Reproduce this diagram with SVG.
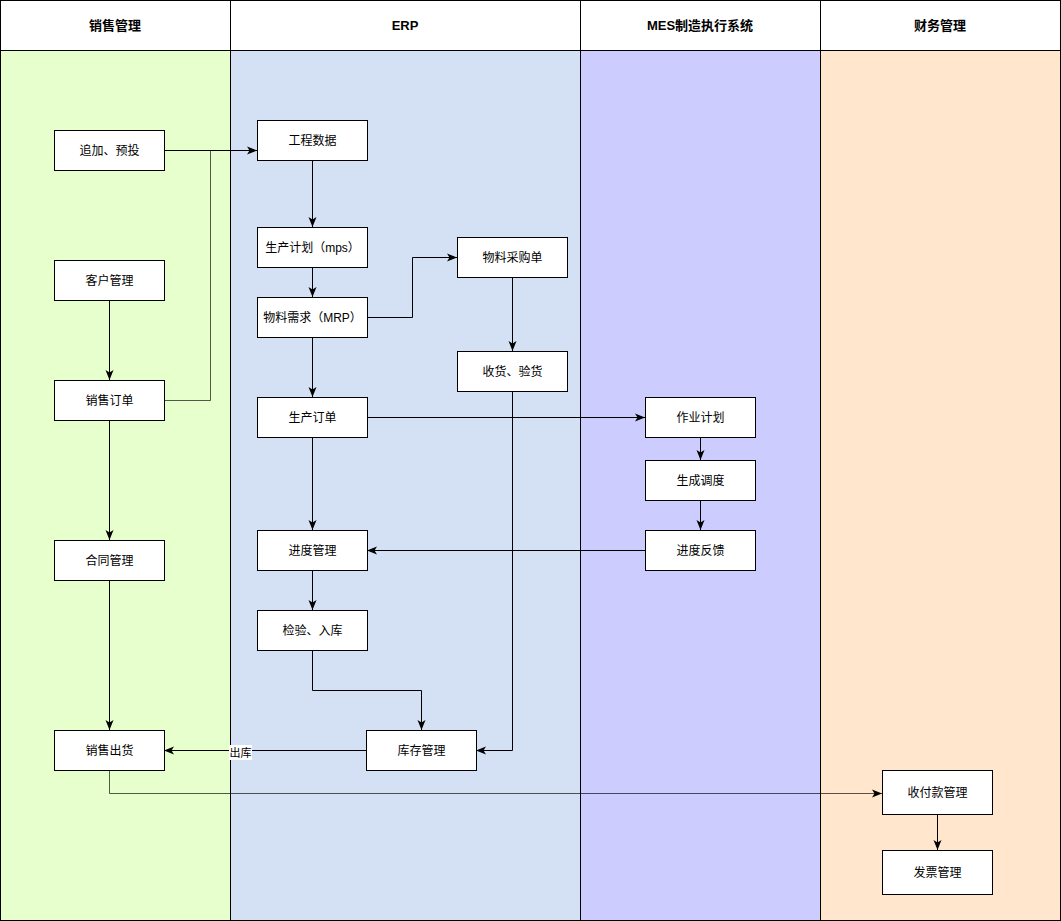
<svg xmlns="http://www.w3.org/2000/svg" width="1061" height="921" viewBox="0 0 1061 921">
<style>
.hdr{fill:#ffffff;stroke:#000;stroke-width:1}
.lane{stroke:#000;stroke-width:1}
.ht{font-family:"Liberation Sans","Noto Sans CJK SC",sans-serif;font-size:13px;font-weight:bold;fill:#000;text-anchor:middle;dominant-baseline:central}
.box{fill:#fff;stroke:#000;stroke-width:1}
.t{font-family:"Liberation Sans","Noto Sans CJK SC",sans-serif;font-size:12px;fill:#000;text-anchor:middle;dominant-baseline:central}
.e{fill:none;stroke:#000;stroke-width:1}
.g{fill:none;stroke:#000;stroke-opacity:0.65;stroke-width:1}
</style>
<defs>
<marker id="a" viewBox="0 0 10 10" refX="10" refY="5" markerWidth="10" markerHeight="10" markerUnits="userSpaceOnUse" orient="auto">
<path d="M0,1 L10,5 L0,9 L2.5,5 Z" fill="#000"/>
</marker>
</defs>
<g id="lanes">
<rect class="lane" x="0.5" y="50.5" width="230" height="870" fill="#e6ffcc"/>
<rect class="lane" x="230.5" y="50.5" width="350" height="870" fill="#d4e1f5"/>
<rect class="lane" x="580.5" y="50.5" width="240" height="870" fill="#ccccff"/>
<rect class="lane" x="820.5" y="50.5" width="240" height="870" fill="#ffe6cc"/>
<rect class="hdr" x="0.5" y="0.5" width="230" height="50"/>
<rect class="hdr" x="230.5" y="0.5" width="350" height="50"/>
<rect class="hdr" x="580.5" y="0.5" width="240" height="50"/>
<rect class="hdr" x="820.5" y="0.5" width="240" height="50"/>
<text class="ht" x="115" y="25">销售管理</text>
<text class="ht" x="405" y="25">ERP</text>
<text class="ht" x="700" y="25">MES制造执行系统</text>
<text class="ht" x="940" y="25">财务管理</text>
</g>
<g id="connectors">
<path class="g" d="M164,400.5 H210.5 V150.5 H230"/>
<path class="g" d="M109.5,770 V793.5 H882" marker-end="url(#a)"/>
<path class="e" d="M164,150.5 H257" marker-end="url(#a)"/>
<path class="e" d="M109.5,300 V380" marker-end="url(#a)"/>
<path class="e" d="M109.5,420 V540" marker-end="url(#a)"/>
<path class="e" d="M109.5,580 V730" marker-end="url(#a)"/>
<path class="e" d="M312.5,160 V227" marker-end="url(#a)"/>
<path class="e" d="M312.5,267 V297" marker-end="url(#a)"/>
<path class="e" d="M367,317.5 H412.5 V257.5 H457" marker-end="url(#a)"/>
<path class="e" d="M512.5,277 V351" marker-end="url(#a)"/>
<path class="e" d="M512.5,391 V750.5 H476" marker-end="url(#a)"/>
<path class="e" d="M312.5,337 V397" marker-end="url(#a)"/>
<path class="e" d="M367,417.5 H645" marker-end="url(#a)"/>
<path class="e" d="M312.5,437 V530" marker-end="url(#a)"/>
<path class="e" d="M700.5,437 V460" marker-end="url(#a)"/>
<path class="e" d="M700.5,500 V530" marker-end="url(#a)"/>
<path class="e" d="M645,550.5 H367" marker-end="url(#a)"/>
<path class="e" d="M312.5,570 V610" marker-end="url(#a)"/>
<path class="e" d="M312.5,650 V690.5 H421.5 V730" marker-end="url(#a)"/>
<path class="e" d="M366,750.5 H164" marker-end="url(#a)"/>
<path class="e" d="M937.5,815 V850" marker-end="url(#a)"/>
<g id="label-chuku">
<rect x="229" y="745" width="23" height="15" fill="#fff"/>
<text class="t" x="240.5" y="753" style="font-size:11px">出库</text>
</g>
</g>
<g id="n1"><rect class="box" x="54.5" y="130.5" width="110" height="40"/><text class="t" x="109.5" y="150.5">追加、预投</text></g>
<g id="n2"><rect class="box" x="54.5" y="260.5" width="110" height="40"/><text class="t" x="109.5" y="280.5">客户管理</text></g>
<g id="n3"><rect class="box" x="54.5" y="380.5" width="110" height="40"/><text class="t" x="109.5" y="400.5">销售订单</text></g>
<g id="n4"><rect class="box" x="54.5" y="540.5" width="110" height="40"/><text class="t" x="109.5" y="560.5">合同管理</text></g>
<g id="n5"><rect class="box" x="54.5" y="730.5" width="110" height="40"/><text class="t" x="109.5" y="750.5">销售出货</text></g>
<g id="n6"><rect class="box" x="257.5" y="120.5" width="110" height="40"/><text class="t" x="312.5" y="140.5">工程数据</text></g>
<g id="n7"><rect class="box" x="257.5" y="227.5" width="110" height="40"/><text class="t" x="312.5" y="247.5">生产计划（mps）</text></g>
<g id="n8"><rect class="box" x="257.5" y="297.5" width="110" height="40"/><text class="t" x="312.5" y="317.5">物料需求（MRP）</text></g>
<g id="n9"><rect class="box" x="257.5" y="397.5" width="110" height="40"/><text class="t" x="312.5" y="417.5">生产订单</text></g>
<g id="n10"><rect class="box" x="257.5" y="530.5" width="110" height="40"/><text class="t" x="312.5" y="550.5">进度管理</text></g>
<g id="n11"><rect class="box" x="257.5" y="610.5" width="110" height="40"/><text class="t" x="312.5" y="630.5">检验、入库</text></g>
<g id="n12"><rect class="box" x="366.5" y="730.5" width="110" height="40"/><text class="t" x="421.5" y="750.5">库存管理</text></g>
<g id="n13"><rect class="box" x="457.5" y="237.5" width="110" height="40"/><text class="t" x="512.5" y="257.5">物料采购单</text></g>
<g id="n14"><rect class="box" x="457.5" y="351.5" width="110" height="40"/><text class="t" x="512.5" y="371.5">收货、验货</text></g>
<g id="n15"><rect class="box" x="645.5" y="397.5" width="110" height="40"/><text class="t" x="700.5" y="417.5">作业计划</text></g>
<g id="n16"><rect class="box" x="645.5" y="460.5" width="110" height="40"/><text class="t" x="700.5" y="480.5">生成调度</text></g>
<g id="n17"><rect class="box" x="645.5" y="530.5" width="110" height="40"/><text class="t" x="700.5" y="550.5">进度反馈</text></g>
<g id="n18"><rect class="box" x="882.5" y="770.5" width="110" height="44"/><text class="t" x="937.5" y="792.5">收付款管理</text></g>
<g id="n19"><rect class="box" x="882.5" y="850.5" width="110" height="44"/><text class="t" x="937.5" y="872.5">发票管理</text></g>
</svg>
